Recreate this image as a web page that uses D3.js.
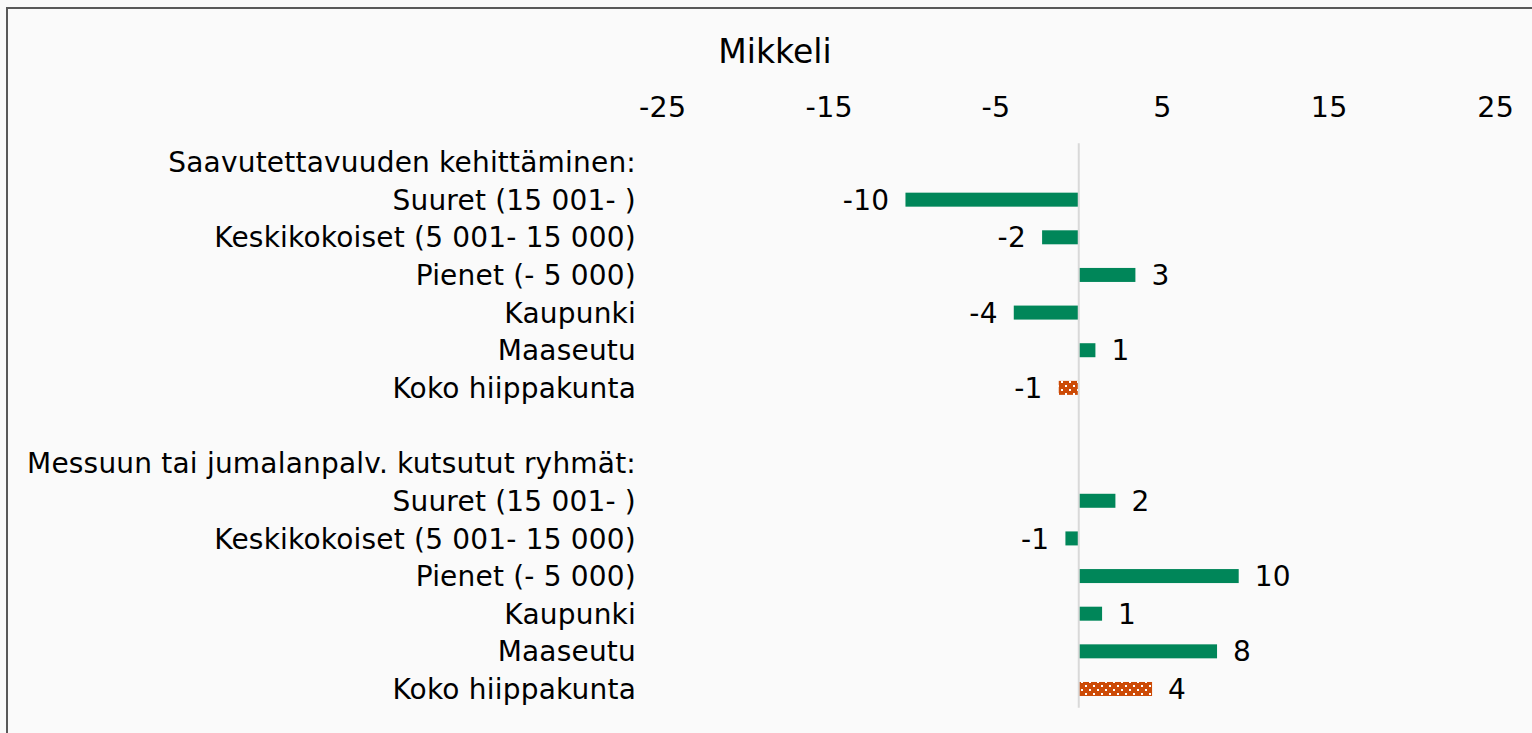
<!DOCTYPE html>
<html>
<head>
<meta charset="utf-8">
<script src="https://cdn.jsdelivr.net/npm/d3@7"></script>
<style>
    html, body { margin: 0; padding: 0; background: #fafafa; }
    svg { display: block; }
    text { font-family: "DejaVu Sans", Verdana, sans-serif; fill: #000; }
</style>
</head>
<body>
<svg id="chart"></svg>
<script>
// Chart data
const title = 'Mikkeli';
const categories = [
    'Saavutettavuuden kehittäminen:',
    'Suuret (15 001- )',
    'Keskikokoiset (5 001- 15 000)',
    'Pienet (- 5 000)',
    'Kaupunki',
    'Maaseutu',
    'Koko hiippakunta',
    '',
    'Messuun tai jumalanpalv. kutsutut ryhmät:',
    'Suuret (15 001- )',
    'Keskikokoiset (5 001- 15 000)',
    'Pienet (- 5 000)',
    'Kaupunki',
    'Maaseutu',
    'Koko hiippakunta'
];
// null = header or spacer row
const values = [null, -10.4, -2.2, 3.4, -3.9, 1.0, -1.2, null, null, 2.2, -0.8, 9.6, 1.4, 8.3, 4.4];
const totalRows = ['Koko hiippakunta'];
const xTicks = [-25, -15, -5, 5, 15, 25];

const W = 1532, H = 733;
const green = '#008659';
const orange = '#cc4a06';

// plain hyphen as minus sign, like the original
const fmt = v => String(Math.round(v));

const svg = d3.select('#chart').attr('width', W).attr('height', H);

// Frame
svg.append('rect')
    .attr('x', 7).attr('y', 8)
    .attr('width', W + 20).attr('height', H + 20)
    .attr('fill', '#fafafa')
    .attr('stroke', '#595959')
    .attr('stroke-width', 2);

// Dotted pattern for the total rows
const pat = svg.append('defs').append('pattern')
    .attr('id', 'dots')
    .attr('patternUnits', 'userSpaceOnUse')
    .attr('width', 8).attr('height', 8);
pat.append('rect').attr('width', 8).attr('height', 8).attr('fill', orange);
pat.append('rect').attr('x', 1).attr('y', 1).attr('width', 2).attr('height', 2).attr('fill', '#fff');
pat.append('rect').attr('x', 5).attr('y', 5).attr('width', 2).attr('height', 2).attr('fill', '#fff');

const rows = categories.map((c, i) => ({ key: i, label: c, value: values[i] }));

// Scales
const x = d3.scaleLinear().domain([-25, 25]).range([662.2, 1495.3]);
const p = 1 - 14 / 37.64;
const y = d3.scaleBand()
    .domain(rows.map(d => d.key))
    .range([143.2, 707.8])
    .paddingInner(p)
    .paddingOuter(p / 2);

// Title
svg.append('text')
    .attr('x', 775).attr('y', 62.7)
    .attr('text-anchor', 'middle')
    .style('font-size', '33px')
    .text(title);

// Top axis (labels only)
const axis = svg.append('g')
    .attr('transform', 'translate(0,116.7)')
    .call(d3.axisTop(x).tickValues(xTicks).tickSize(0).tickPadding(0).tickFormat(fmt));
axis.select('.domain').remove();
axis.selectAll('text')
    .style('font-family', '"DejaVu Sans", Verdana, sans-serif')
    .style('font-size', '28.5px')
    .style('letter-spacing', '0.3px')
    .attr('fill', '#000');

// Category labels
svg.append('g').selectAll('text')
    .data(rows)
    .enter().append('text')
    .attr('x', 636)
    .attr('y', d => y(d.key) + y.bandwidth() / 2)
    .attr('dy', '0.36em')
    .attr('text-anchor', 'end')
    .style('font-size', '28px')
    .style('letter-spacing', '0.2px')
    .text(d => d.label);

const bars = rows.filter(d => d.value !== null);

// Bars
svg.append('g').selectAll('rect')
    .data(bars)
    .enter().append('rect')
    .attr('x', d => x(Math.min(0, d.value)))
    .attr('y', d => y(d.key))
    .attr('width', d => Math.abs(x(d.value) - x(0)))
    .attr('height', y.bandwidth())
    .attr('fill', d => totalRows.includes(d.label) ? 'url(#dots)' : green);

// Zero line
svg.append('line')
    .attr('x1', x(0)).attr('x2', x(0))
    .attr('y1', y.range()[0]).attr('y2', y.range()[1])
    .attr('stroke', '#d9d9d9')
    .attr('stroke-width', 2);

// Value labels
svg.append('g').selectAll('text')
    .data(bars)
    .enter().append('text')
    .attr('x', d => d.value >= 0 ? x(d.value) + 16 : x(d.value) - 16)
    .attr('y', d => y(d.key) + y.bandwidth() / 2)
    .attr('dy', '0.36em')
    .attr('text-anchor', d => d.value >= 0 ? 'start' : 'end')
    .style('font-size', '28px')
    .style('letter-spacing', '0.3px')
    .text(d => fmt(d.value));
</script>
</body>
</html>
